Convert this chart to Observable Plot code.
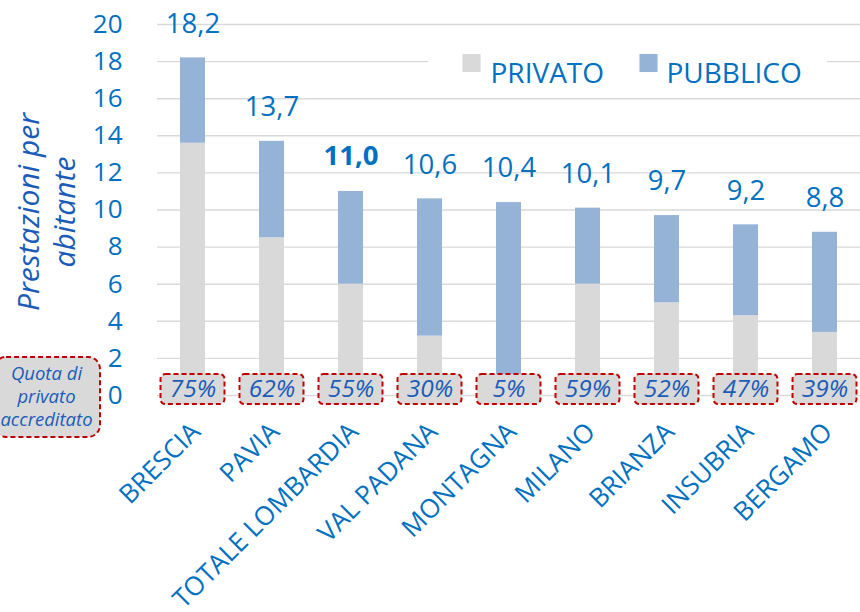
<!DOCTYPE html>
<html><head><meta charset="utf-8">
<script src="https://cdn.jsdelivr.net/npm/d3@7"></script>
<script src="https://cdn.jsdelivr.net/npm/@observablehq/plot@0.6"></script>
<style>body{margin:0;background:#fff;overflow:hidden;}</style>
</head><body><div id="chart"></div>
<script>
const categories = ["BRESCIA","PAVIA","TOTALE LOMBARDIA","VAL PADANA","MONTAGNA","MILANO","BRIANZA","INSUBRIA","BERGAMO"];
const totals = [18.2,13.7,11.0,10.6,10.4,10.1,9.7,9.2,8.8];
const privato = [13.6,8.5,6.0,3.2,0.5,6.0,5.0,4.3,3.4];
const pubblico = [4.6,5.2,5.0,7.4,9.9,4.1,4.7,4.9,5.4];
const quota = ["75%","62%","55%","30%","5%","59%","52%","47%","39%"];
const series = ["PRIVATO","PUBBLICO"];
const seriesColors = ["#d9d9d9","#95b3d7"];
const yTicks = [0,2,4,6,8,10,12,14,16,18,20];
const yLabel = "Prestazioni per\nabitante";
const quotaLabel = "Quota di\nprivato\naccreditato";
const highlight = "TOTALE LOMBARDIA";

const rows = categories.map((c,i)=>({cat:c,total:totals[i],quota:quota[i]}));
const stacked = [];
categories.forEach((c,i)=>{
  stacked.push({cat:c, series:"PRIVATO", value:privato[i]});
  stacked.push({cat:c, series:"PUBBLICO", value:pubblico[i]});
});
const fmt = v => v.toFixed(1).replace(".", ",");
const blue = "#0070c0";
const italicBlue = "#1a5cb8";
const W = 860, H = 612, mL = 157, mR = 0, mT = 24, mB = 217;

const chart = Plot.plot({
  width: W, height: H,
  marginLeft: mL, marginRight: mR, marginTop: mT, marginBottom: mB,
  style: {fontFamily: "'Open Sans', sans-serif", background: "#fff", color: blue},
  x: {domain: categories, paddingInner: 0.686, paddingOuter: 0.26, label: null},
  y: {domain: [0,20], label: null},
  color: {domain: series, range: seriesColors},
  marks: [
    Plot.ruleY(yTicks, {stroke: "#d9d9d9", strokeWidth: 1.4}),
    Plot.barY(stacked, {x: "cat", y: "value", fill: "series", order: series}),
    Plot.barY(rows, {x: "cat", y1: -0.49, y2: 1.13, fill: "#d9d9d9", stroke: "#c00000", strokeWidth: 2, strokeDasharray: "5,3", rx: 5, insetLeft: -19.5, insetRight: -19.5}),
    Plot.text(rows, {x: "cat", y: 0.32, text: "quota", fill: italicBlue, fontSize: 24.5, fontStyle: "italic"}),
    Plot.text(rows.filter(d=>d.cat!==highlight), {x: "cat", y: "total", text: d=>fmt(d.total), dy: -34, fill: blue, fontSize: 27.5}),
    Plot.text(rows.filter(d=>d.cat===highlight), {x: "cat", y: "total", text: d=>fmt(d.total), dy: -35, fill: blue, fontSize: 27.5, fontWeight: "bold"}),
    Plot.axisY({ticks: yTicks, tickSize: 0, tickPadding: 35, fontSize: 26, fill: blue, label: null}),
    Plot.axisX({tickRotate: -45, tickSize: 0, tickPadding: 32, dx: 3, fontSize: 26, fill: blue, label: null}),
    // legend
    Plot.barY([0], {y1: 17.05, y2: 18.95, fill: "white", insetLeft: 428 - mL, insetRight: W - 827}),
    Plot.dot([series[0]], {frameAnchor: "top-left", dx: 471 - mL, dy: 62.5 - mT, symbol: "square", r: 10.2, fill: seriesColors[0]}),
    Plot.text([series[0]], {frameAnchor: "top-left", dx: 490 - mL, dy: 62.5 - mT, text: d=>d, textAnchor: "start", fill: blue, fontSize: 28}),
    Plot.dot([series[1]], {frameAnchor: "top-left", dx: 648 - mL, dy: 62.5 - mT, symbol: "square", r: 10.2, fill: seriesColors[1]}),
    Plot.text([series[1]], {frameAnchor: "top-left", dx: 666 - mL, dy: 62.5 - mT, text: d=>d, textAnchor: "start", fill: blue, fontSize: 28}),
    // y label
    Plot.text([yLabel], {frameAnchor: "left", dx: 44.5 - mL, dy: 2, rotate: -90, textAnchor: "middle", text: d=>d, fill: italicBlue, fontSize: 30, fontStyle: "italic", lineHeight: 1.2}),
    // quota annotation
    Plot.barY([0], {y1: -2.26, y2: 2.05, insetLeft: -6 - mL, insetRight: W - 100, rx: 12, fill: "#d9d9d9", stroke: "#c00000", strokeWidth: 2, strokeDasharray: "5,3"}),
    Plot.text([quotaLabel], {frameAnchor: "left", y: 0, dx: 46 - mL, textAnchor: "middle", text: d=>d, fill: italicBlue, fontSize: 18.5, fontStyle: "italic", lineHeight: 1.25})
  ]
});
document.getElementById("chart").appendChild(chart);
</script>
</body></html>
